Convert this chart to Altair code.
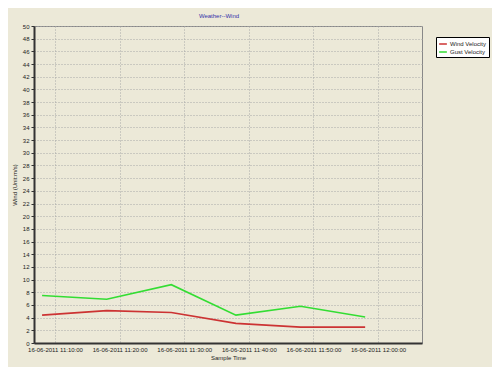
import altair as alt
import pandas as pd

times = ["2011-06-16T11:08:00", "2011-06-16T11:18:00", "2011-06-16T11:28:00",
         "2011-06-16T11:38:00", "2011-06-16T11:48:00", "2011-06-16T11:58:00"]
wind = [4.4, 5.1, 4.8, 3.1, 2.5, 2.5]
gust = [7.5, 6.9, 9.2, 4.4, 5.8, 4.1]
series_names = ["Wind Velocity", "Gust Velocity"]
series_colors = ["#CC3333", "#33DD33"]
y_ticks = list(range(0, 51, 2))
x_tick_times = ["2011-06-16T11:10:00", "2011-06-16T11:20:00", "2011-06-16T11:30:00",
                "2011-06-16T11:40:00", "2011-06-16T11:50:00", "2011-06-16T12:00:00"]

rows = []
for t, w in zip(times, wind):
    rows.append({"time": t, "value": w, "series": series_names[0]})
for t, g in zip(times, gust):
    rows.append({"time": t, "value": g, "series": series_names[1]})
df = pd.DataFrame(rows)

def dt(s):
    d, tm = s.split("T")
    y, mo, da = d.split("-")
    h, mi, se = tm.split(":")
    return alt.DateTime(year=int(y), month=int(mo), date=int(da),
                        hours=int(h), minutes=int(mi), seconds=int(se))

x_domain = [dt("2011-06-16T11:06:45"), dt("2011-06-16T12:06:48")]
FONT = "Liberation Sans"
FS = 6

lines = alt.Chart(df).mark_line(strokeWidth=1.6).encode(
    x=alt.X("time:T", title="Sample Time",
            scale=alt.Scale(domain=x_domain),
            axis=alt.Axis(values=[dt(s) for s in x_tick_times],
                          format="%d-%m-%Y %H:%M:%S", labelFontSize=FS,
                          titleFontSize=FS, titlePadding=2, labelPadding=3,
                          tickSize=0, gridDash=[1, 2], gridColor="#A8A8A8",
                          domainColor="#333333", domainWidth=2,
                          labelColor="#222222", titleColor="#222222",
                          labelFont=FONT, titleFont=FONT, labelOverlap=False,
                          titleFontWeight="normal")),
    y=alt.Y("value:Q", title="Wind (Unit:m/s)",
            scale=alt.Scale(domain=[0, 50], nice=False),
            axis=alt.Axis(values=y_ticks, labelFontSize=FS, titleFontSize=FS,
                          tickSize=3, tickColor="#333333", labelPadding=2,
                          gridDash=[1, 2], gridColor="#A8A8A8",
                          domainColor="#333333", domainWidth=2,
                          labelColor="#222222", titleColor="#222222",
                          labelFont=FONT, titleFont=FONT,
                          titleFontWeight="normal", titlePadding=5)),
    color=alt.Color("series:N", title=None,
                    scale=alt.Scale(domain=series_names, range=series_colors),
                    legend=alt.Legend(orient="none", legendX=402, legendY=11,
                                      fillColor="white", strokeColor="black",
                                      padding=2, labelFontSize=FS, symbolType="stroke",
                                      symbolSize=60, symbolStrokeWidth=1.5,
                                      labelFont=FONT, rowPadding=0, labelOffset=2,
                                      labelColor="#222222", cornerRadius=0)),
)

chart = lines.properties(
    width=388, height=317,
    title=alt.TitleParams("Weather--Wind", fontSize=FS, color="#3333AA",
                          font=FONT, fontWeight="normal",
                          anchor="middle", dx=-9, offset=4),
    background="#ECE9D8",
    padding={"left": 26, "top": 18, "right": 70, "bottom": 24},
    autosize=alt.AutoSizeParams(type="none"),
).configure_view(stroke="#888888", strokeWidth=1, fill="#ECE9D8")

chart.save("out.html", embed_options={"renderer": "svg", "actions": False})
